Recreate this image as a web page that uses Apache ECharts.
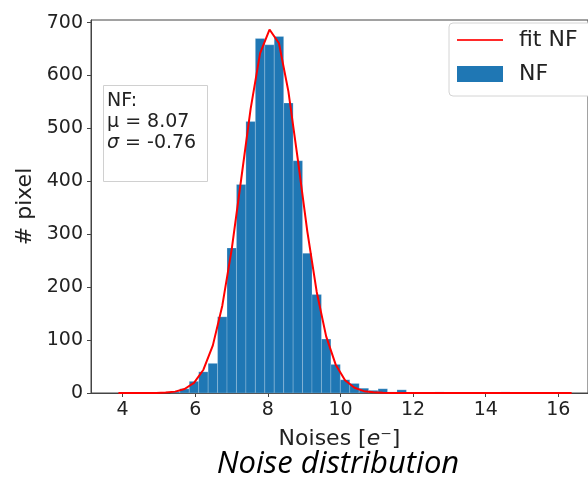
<!DOCTYPE html>
<html><head><meta charset="utf-8">
<script src="https://cdn.jsdelivr.net/npm/echarts@6/dist/echarts.min.js"></script>
<style>html,body{margin:0;padding:0;background:#fff}#c{width:588px;height:480px}</style>
</head><body><div id="c"></div>
<script>
// Histogram bin edges (Noise, e-) and counts
const binEdges = [3.755, 4.015, 4.275, 4.535, 4.795, 5.055, 5.315, 5.575, 5.835, 6.095,
  6.355, 6.615, 6.875, 7.135, 7.395, 7.655, 7.915, 8.175, 8.435, 8.695,
  8.955, 9.215, 9.475, 9.735, 9.995, 10.255, 10.515, 10.775, 11.035, 11.295,
  11.555, 11.815, 12.075, 12.335, 12.595, 12.855, 13.115, 13.375, 13.635, 13.895,
  14.155, 14.415, 14.675, 14.935, 15.195, 15.455, 15.715, 15.975, 16.235, 16.495];
const counts = [0, 0, 0, 0, 0, 0, 3, 8, 22, 40,
  56, 144, 274, 394, 513, 670, 658, 674, 548, 439,
  264, 186, 102, 54, 25, 18, 9, 5, 8, 2,
  6, 1, 0, 0, 2, 0, 0, 0, 0, 0,
  0, 2, 0, 0, 0, 0, 0, 0, 0];
// Fit curve values at bin centres
const fitValues = [0, 0, 0, 0.1, 0.2, 0.8, 2.6, 7.5, 19, 44,
  90, 165, 272, 404, 537, 642, 687, 661, 570, 441,
  306, 191, 107, 54, 24, 10, 3.5, 1.2, 0.3, 0.1, 0, 0, 0, 0, 0, 0, 0, 0, 0, 0,
  0, 0, 0, 0, 0, 0, 0, 0, 0];
const xTicks = [4, 6, 8, 10, 12, 14, 16];
const yTicks = [0, 100, 200, 300, 400, 500, 600, 700];
const seriesNames = ['fit NF', 'NF'];
const statTitle = 'NF:';
const muText = '8.07';
const sigmaText = '-0.76';
const xName = 'Noises [{i|e}⁻]';
const yName = '# pixel';
const caption = 'Noise distribution';

const histData = [];
for (let i = 0; i < counts.length; i++) {
  if (counts[i] > 0) histData.push([binEdges[i], binEdges[i + 1], counts[i]]);
}
const fitData = [];
for (let i = 0; i < fitValues.length; i++) {
  fitData.push([(binEdges[i] + binEdges[i + 1]) / 2, fitValues[i]]);
}

const FONT = 'DejaVu Sans';
const TXT = '#222';
const chart = echarts.init(document.getElementById('c'), null, {renderer: 'canvas'});
chart.setOption({
  animation: false,
  backgroundColor: '#fff',
  grid: {left: 91, top: 20, right: -6, bottom: 87, show: true, borderColor: '#444', borderWidth: 1, backgroundColor: 'transparent'},
  xAxis: {
    type: 'value', min: 3.129, max: 16.816,
    splitLine: {show: false},
    axisLine: {lineStyle: {color: '#444', width: 1}},
    axisTick: {customValues: xTicks, length: 4, lineStyle: {color: '#444'}},
    axisLabel: {customValues: xTicks, fontFamily: FONT, fontSize: 19, color: TXT, margin: 8},
    name: xName, nameLocation: 'middle', nameGap: 35,
    nameTextStyle: {fontFamily: FONT, fontSize: 22, color: TXT,
      rich: {i: {fontFamily: FONT, fontSize: 22, fontStyle: 'italic', color: TXT}}}
  },
  yAxis: {
    type: 'value', min: 0, max: 705, interval: 100,
    splitLine: {show: false},
    axisLine: {show: true, lineStyle: {color: '#444', width: 1}},
    axisTick: {show: true, customValues: yTicks, length: 4, lineStyle: {color: '#444'}},
    axisLabel: {customValues: yTicks, fontFamily: FONT, fontSize: 19, color: TXT, margin: 8},
    name: yName, nameLocation: 'middle', nameGap: 55,
    nameTextStyle: {fontFamily: FONT, fontSize: 22, color: TXT}
  },
  legend: {
    orient: 'vertical', left: 449, top: 23,
    data: [{name: seriesNames[0], icon: 'path://M0,0L46,0L46,2L0,2Z'}, {name: seriesNames[1], icon: 'rect'}],
    itemWidth: 46, itemHeight: 16, itemGap: 10,
    padding: [5, 30, 10, 8],
    borderColor: '#d4d4d4', borderWidth: 1, borderRadius: 4, backgroundColor: '#fff',
    textStyle: {fontFamily: FONT, fontSize: 22, color: TXT, lineHeight: 24, padding: [0, 0, 0, 11]}
  },
  series: [
    {
      name: seriesNames[1], type: 'custom', data: histData,
      encode: {x: [0, 1], y: 2},
      itemStyle: {color: '#1f77b4'},
      renderItem: function (params, api) {
        const p0 = api.coord([api.value(0), api.value(2)]);
        const p1 = api.coord([api.value(1), 0]);
        return {type: 'rect', shape: {x: p0[0], y: p0[1], width: p1[0] - p0[0], height: p1[1] - p0[1]},
          style: {fill: '#1f77b4', stroke: 'rgba(255,255,255,0.25)', lineWidth: 0.8}};
      },
      z: 2
    },
    {
      name: seriesNames[0], type: 'line', data: fitData,
      symbol: 'none', smooth: false,
      lineStyle: {color: '#ff0000', width: 2},
      itemStyle: {color: '#ff2a2a'},
      z: 3
    }
  ],
  graphic: [
    {type: 'rect', x: 103.5, y: 85.5, shape: {x: 0, y: 0, width: 104, height: 96},
      style: {fill: '#fff', stroke: '#d0d0d0', lineWidth: 1}, z: 10},
    {type: 'text', x: 107, y: 91, z: 11,
      style: {
        text: '{t|' + statTitle + '}\n{t|μ = ' + muText + '}\n{s|σ}{t| = ' + sigmaText + '}',
        align: 'left', verticalAlign: 'top',
        rich: {
          t: {fontFamily: FONT, fontSize: 19, lineHeight: 21, fill: TXT, color: TXT},
          s: {fontFamily: FONT, fontSize: 19, lineHeight: 21, fontStyle: 'italic', fill: TXT, color: TXT}
        }
      }},
    {type: 'text', x: 338, y: 464, z: 11,
      style: {text: caption, align: 'center', verticalAlign: 'middle',
        font: 'italic 31px "Open Sans"', fill: '#000'}}
  ]
});
</script></body></html>
